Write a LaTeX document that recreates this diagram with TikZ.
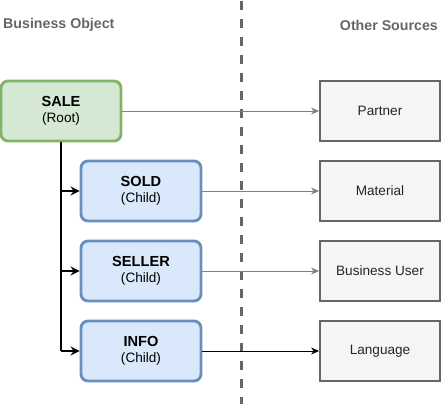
\documentclass[tikz,border=0pt]{standalone}
\usepackage{fontspec}
\setmainfont{Liberation Sans}
\usetikzlibrary{arrows.meta}
\definecolor{rootfill}{HTML}{D5E8D4}
\definecolor{rootdraw}{HTML}{82B366}
\definecolor{childfill}{HTML}{DAE8FC}
\definecolor{childdraw}{HTML}{6C8EBF}
\definecolor{srcfill}{HTML}{F5F5F5}
\definecolor{srcdraw}{HTML}{666666}
\definecolor{titlegray}{HTML}{666666}
\definecolor{linkgray}{HTML}{808080}
\tikzset{
  objbox/.style={line width=2.8pt, rounded corners=7pt,
    minimum width=120pt, minimum height=60pt, align=center, inner sep=0pt,
    font=\fontsize{13.6}{16.5}\selectfont},
  rootbox/.style={objbox, draw=rootdraw, fill=rootfill},
  childbox/.style={objbox, draw=childdraw, fill=childfill},
  srcbox/.style={draw=srcdraw, fill=srcfill, line width=1.8pt,
    minimum width=120pt, minimum height=60pt, align=center, inner sep=0pt,
    font=\fontsize{13.6}{16}\selectfont, text=black!85},
  title/.style={font=\fontsize{14.2}{16}\selectfont\bfseries, text=titlegray, inner sep=0pt},
  trunk/.style={line width=2.2pt, black},
  branch/.style={line width=2.2pt, black, -{Stealth[length=9pt,width=9pt,inset=3pt]}},
  link/.style={line width=1pt, linkgray, -{Stealth[length=8pt,width=7pt,inset=2.5pt]}},
  blink/.style={line width=0.9pt, black, -{Stealth[length=8pt,width=7pt,inset=2.5pt]}},
  divider/.style={line width=3pt, titlegray, dash pattern=on 9pt off 9pt, dash phase=-1pt}
}
\newcommand{\boxlabel}[2]{{\fontsize{14.6}{16.5}\selectfont\bfseries #1}\\{#2}}
\begin{document}
\begin{tikzpicture}[x=1pt,y=-1pt]
\useasboundingbox (0,0) rectangle (443,404);
\coordinate (dtop) at (241.5,0);
\coordinate (dbot) at (241.5,404);
\draw[divider] (dtop) -- (dbot);
\node[title, anchor=west] (lt) at (3,25) {Business Object};
\node[title, anchor=east] (rt) at (438,25) {Other Sources};
\node[rootbox] (sale) at (61,111) {\boxlabel{SALE}{(Root)}};
\node[childbox] (sold) at (141,191) {\boxlabel{SOLD}{(Child)}};
\node[childbox] (seller) at (141,271) {\boxlabel{SELLER}{(Child)}};
\node[childbox] (info) at (141,351) {\boxlabel{INFO}{(Child)}};
\node[srcbox] (partner) at (380,111) {Partner};
\node[srcbox] (material) at (380,191) {Material};
\node[srcbox] (buser) at (380,271) {Business User};
\node[srcbox] (lang) at (380,351) {Language};
\coordinate (tend) at (61,351);
\draw[trunk] (sale.south) -- (tend);
\draw[branch] (sale.south |- sold.west) -- (sold.west);
\draw[branch] (sale.south |- seller.west) -- (seller.west);
\draw[branch] (tend) -- (info.west);
\draw[link] (sale.east) -- (partner.west);
\draw[link] (sold.east) -- (material.west);
\draw[link] (seller.east) -- (buser.west);
\draw[blink] (info.east) -- (lang.west);
\end{tikzpicture}
\end{document}
